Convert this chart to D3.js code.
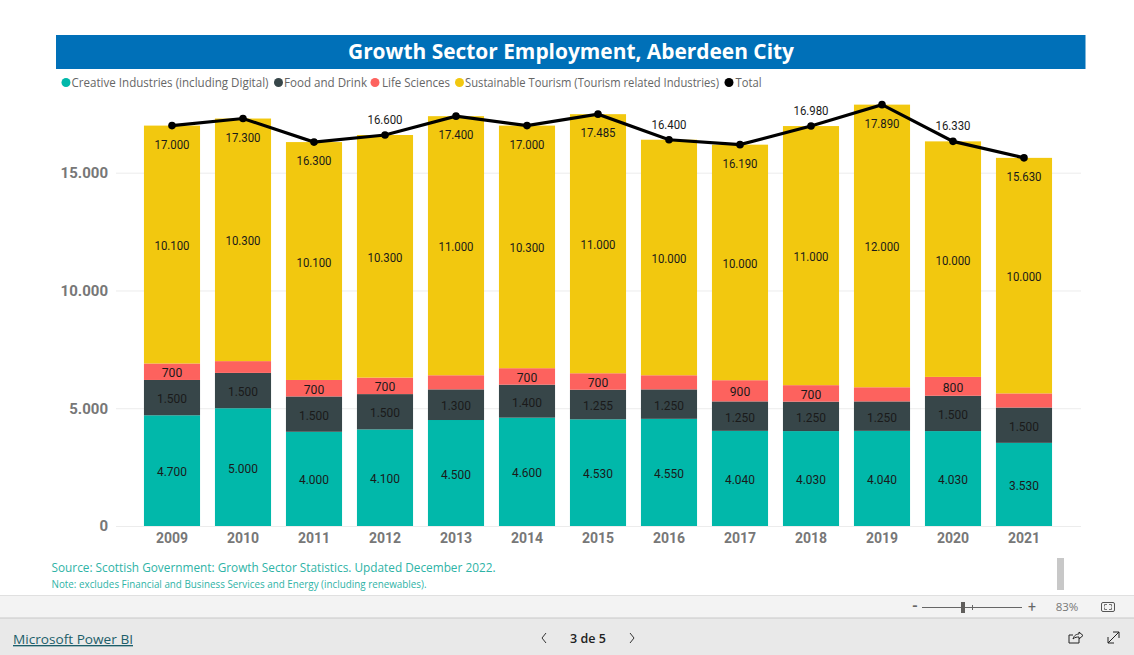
<!DOCTYPE html>
<html><head><meta charset="utf-8">
<script src="https://cdn.jsdelivr.net/npm/d3@7/dist/d3.min.js"></script>
<style>
html,body{margin:0;padding:0;background:#fff;overflow:hidden}
svg{display:block}
text{font-family:Roboto,sans-serif}
.ui{font-family:"Open Sans",sans-serif}
</style></head><body>
<svg id="c" width="1134" height="655"></svg>
<script>
const years=[2009,2010,2011,2012,2013,2014,2015,2016,2017,2018,2019,2020,2021];
const creative=[4700,5000,4000,4100,4500,4600,4530,4550,4040,4030,4040,4030,3530];
const food=[1500,1500,1500,1500,1300,1400,1255,1250,1250,1250,1250,1500,1500];
const life=[700,500,700,700,600,700,700,600,900,700,600,800,600];
const tourism=[10100,10300,10100,10300,11000,10300,11000,10000,10000,11000,12000,10000,10000];
const total=[17000,17300,16300,16600,17400,17000,17485,16400,16190,16980,17890,16330,15630];
const hiddenLifeLabels=[2010,2013,2016,2019,2021];
const totalLabelsAbove=[2012,2016,2018,2020];
const seriesNames=["Creative Industries (including Digital)","Food and Drink","Life Sciences","Sustainable Tourism (Tourism related Industries)","Total"];
const seriesColors=["#01B8AA","#374649","#FD625E","#F2C80F","#000000"];
const yTicks=[0,5000,10000,15000];
const titleText="Growth Sector Employment, Aberdeen City";
const sourceText="Source: Scottish Government: Growth Sector Statistics. Updated December 2022.";
const noteText="Note: excludes Financial and Business Services and Energy (including renewables).";

const svg=d3.select("#c");
const fmt=d3.formatLocale({decimal:",",thousands:".",grouping:[3],currency:["",""]}).format(",d");
const x=d3.scaleBand().domain(years).range([136.5,1059.5]).paddingInner(0.21).paddingOuter(0.105);
const y=d3.scaleLinear().domain([0,15000]).range([526,172.7]);

function fit(t,w){t.attr("textLength",w).attr("lengthAdjust","spacingAndGlyphs");return t;}
const labelWidth=s=>s.length>=6?35:s.length===5?30:20.5;

// title band
svg.append("rect").attr("x",56).attr("y",35).attr("width",1029.5).attr("height",34).attr("fill","#0070B8");
fit(svg.append("text").attr("class","ui").attr("x",571).attr("y",59).attr("text-anchor","middle").attr("fill","#fff").attr("font-size",21).attr("font-weight",700).text(titleText),446);

// legend
const legCX=[66,278.5,375,459.5,729], legTX=[71.5,284,382,465,735.5], legW=[197,83,68,254,26];
seriesNames.forEach((n,i)=>{
  svg.append("circle").attr("cx",legCX[i]).attr("cy",82.5).attr("r",4.5).attr("fill",seriesColors[i]);
  fit(svg.append("text").attr("class","ui").attr("x",legTX[i]).attr("y",86.5).attr("font-size",12).attr("fill","#666").text(n),legW[i]);
});

// grid + axes
const yAxis=d3.axisLeft(y).tickValues(yTicks).tickSize(-965).tickPadding(8).tickFormat(fmt);
const ga=svg.append("g").attr("transform","translate(116,0)").call(yAxis);
ga.select(".domain").remove();
ga.selectAll("line").attr("stroke","#ececec");
ga.selectAll("text").attr("font-size",15).attr("font-weight",700).attr("fill","#777").attr("font-family","Roboto,sans-serif");
const xAxis=d3.axisBottom(x).tickSize(0).tickPadding(4);
const gx=svg.append("g").attr("transform","translate(0,526)").call(xAxis);
gx.select(".domain").remove();
gx.selectAll("text").attr("font-size",14).attr("font-weight",700).attr("fill","#777").attr("font-family","Roboto,sans-serif").attr("dy","0.9em");

// bars
const rows=years.map((yr,i)=>({year:yr,a:creative[i],b:food[i],c:life[i],d:tourism[i]}));
const stack=d3.stack().keys(["a","b","c","d"])(rows);
svg.append("g").selectAll("g").data(stack).join("g").attr("fill",(d,i)=>seriesColors[i])
 .selectAll("rect").data(d=>d).join("rect")
 .attr("x",d=>x(d.data.year)).attr("width",x.bandwidth())
 .attr("y",d=>y(d[1])).attr("height",d=>y(d[0])-y(d[1]));

// segment labels
const lab=svg.append("g").attr("text-anchor","middle").attr("font-size",13.5).attr("fill","#1a1a1a");
stack.forEach((s,k)=>{
  s.forEach(d=>{
    if(k===2&&hiddenLifeLabels.includes(d.data.year))return;
    const str=fmt(d[1]-d[0]);
    fit(lab.append("text").attr("x",x(d.data.year)+x.bandwidth()/2).attr("y",(y(d[0])+y(d[1]))/2+5.5).text(str),labelWidth(str));
  });
});

// total line
const cx=yr=>x(yr)+x.bandwidth()/2;
const line=d3.line().x(d=>cx(d.y)).y(d=>y(d.v));
const pts=years.map((yr,i)=>({y:yr,v:total[i]}));
svg.append("path").datum(pts).attr("d",line).attr("fill","none").attr("stroke","#000").attr("stroke-width",3.2);
svg.append("g").selectAll("circle").data(pts).join("circle").attr("cx",d=>cx(d.y)).attr("cy",d=>y(d.v)).attr("r",3.8).attr("fill","#000");
const tl=svg.append("g").attr("text-anchor","middle").attr("font-size",13.5).attr("fill","#1a1a1a");
pts.forEach(d=>{
  const above=totalLabelsAbove.includes(d.y);
  const str=fmt(d.v);
  fit(tl.append("text").attr("x",cx(d.y)).attr("y",y(d.v)+(above?-11:23)).text(str),labelWidth(str));
});

// source
fit(svg.append("text").attr("class","ui").attr("x",51.5).attr("y",572).attr("font-size",13).attr("fill","#2EB3A6").text(sourceText),444);
fit(svg.append("text").attr("class","ui").attr("x",51.5).attr("y",588).attr("font-size",10).attr("fill","#2EB3A6").text(noteText),375);

// scroll thumb
svg.append("rect").attr("x",1057).attr("y",558).attr("width",7).attr("height",32).attr("fill","#c8c8c8");

// zoom bar
svg.append("rect").attr("x",0).attr("y",595).attr("width",1134).attr("height",23).attr("fill","#f3f3f3");
svg.append("line").attr("x1",0).attr("x2",1134).attr("y1",595.5).attr("y2",595.5).attr("stroke","#e0e0e0");
svg.append("text").attr("x",915).attr("y",611).attr("text-anchor","middle").attr("font-size",15).attr("font-weight",700).attr("fill","#666").text("-");
svg.append("line").attr("x1",922).attr("x2",1022).attr("y1",607.5).attr("y2",607.5).attr("stroke","#666");
svg.append("line").attr("x1",972.5).attr("x2",972.5).attr("y1",605).attr("y2",610).attr("stroke","#666");
svg.append("rect").attr("x",961).attr("y",602).attr("width",4).attr("height",11).attr("fill","#605e5c");
svg.append("text").attr("x",1032).attr("y",612).attr("text-anchor","middle").attr("font-size",14).attr("fill","#666").text("+");
svg.append("text").attr("class","ui").attr("x",1067).attr("y",611).attr("text-anchor","middle").attr("font-size",11.5).attr("fill","#777").text("83%");
svg.append("rect").attr("x",1101.5).attr("y",602.5).attr("width",13).attr("height",9).attr("rx",1.5).attr("fill","none").attr("stroke","#555");
svg.append("path").attr("d","M1104.5 606.5v-2h2.5M1109 604.5h2.5v2M1111.5 607.5v2h-2.5M1107 609.5h-2.5v-2").attr("fill","none").attr("stroke","#555").attr("stroke-width",0.8);

// footer
svg.append("rect").attr("x",0).attr("y",618).attr("width",1134).attr("height",37).attr("fill","#e9e9e9");
svg.append("line").attr("x1",0).attr("x2",1134).attr("y1",618).attr("y2",618).attr("stroke","#c8c8c8");
fit(svg.append("text").attr("class","ui").attr("x",13).attr("y",644).attr("font-size",13.5).attr("font-weight",500).attr("fill","#1c5e6a").attr("text-decoration","underline").text("Microsoft Power BI"),120);
svg.append("path").attr("d","M546 633l-4 5 4 5").attr("fill","none").attr("stroke","#333");
svg.append("path").attr("d","M630 633l4 5-4 5").attr("fill","none").attr("stroke","#333");
svg.append("text").attr("class","ui").attr("x",588).attr("y",643).attr("text-anchor","middle").attr("font-size",12.5).attr("font-weight",600).attr("fill","#222").text("3 de 5");
svg.append("path").attr("d","M1073 635h-4v8h10v-4M1073 639c1-4 4-5 6-5v-2l4 3.5-4 3.5v-2c-2 0-4 0-6 2z").attr("fill","none").attr("stroke","#222");
svg.append("path").attr("d","M1108 643l11-11M1113 632h6v6M1108 637v6h6").attr("fill","none").attr("stroke","#222");
</script></body></html>
